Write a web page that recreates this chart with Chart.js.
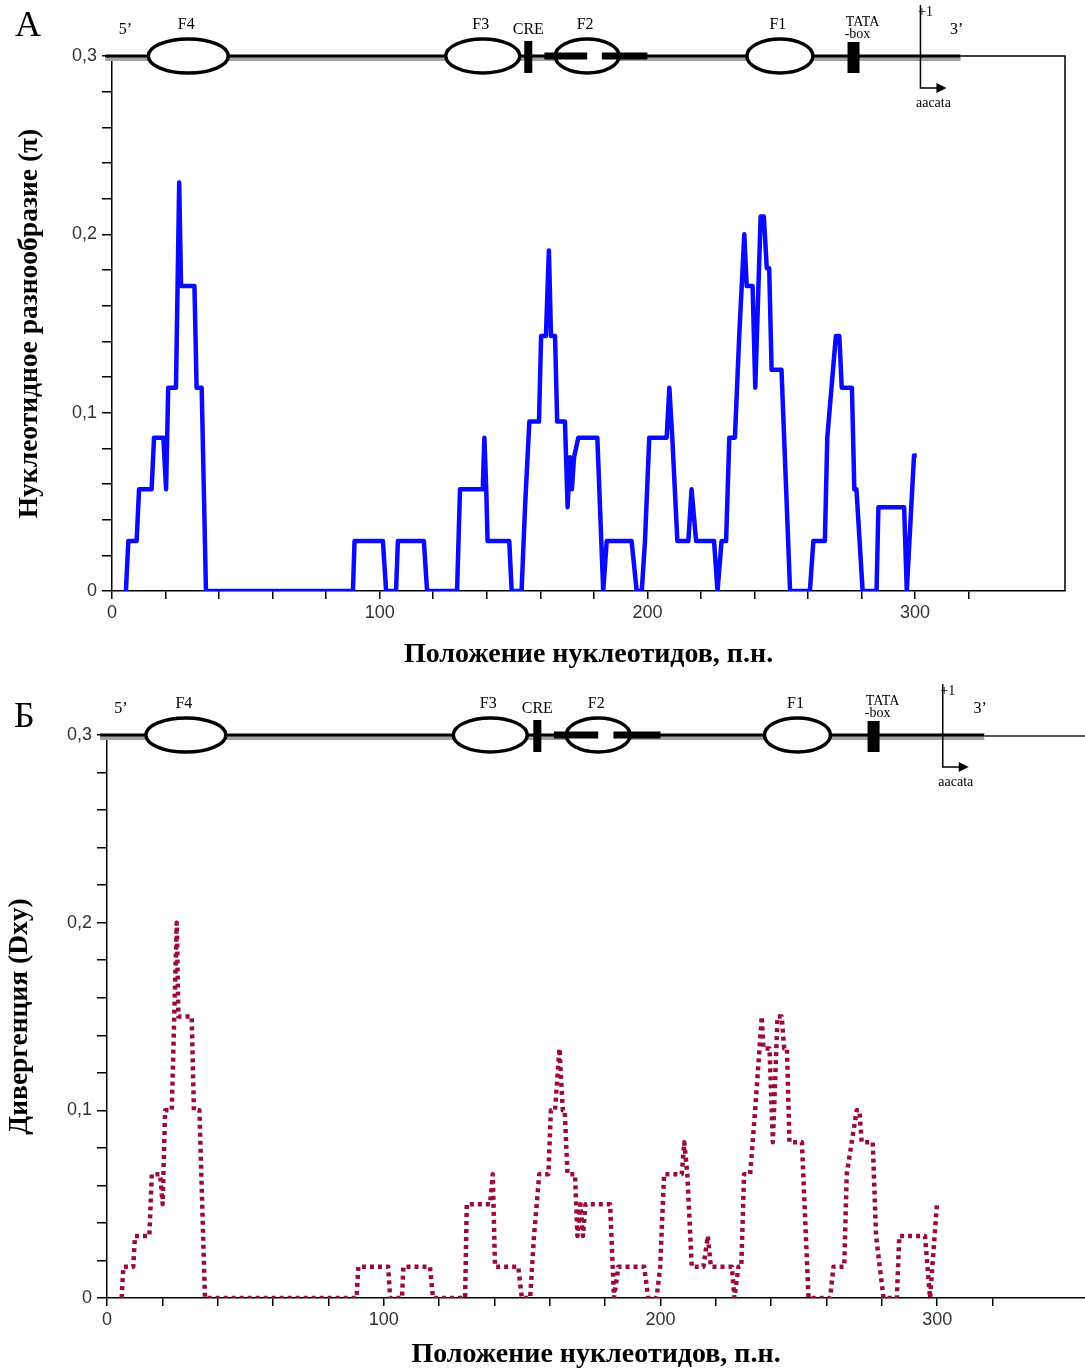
<!DOCTYPE html>
<html>
<head>
<meta charset="utf-8">
<script src="https://cdn.jsdelivr.net/npm/chart.js@4.4.1/dist/chart.umd.min.js"></script>
<style>
  body { margin: 0; background: #fff; width: 1085px; height: 1372px; overflow: hidden; position: relative; }
  .panel { position: absolute; left: 0; }
</style>
</head>
<body>
<div class="panel" style="top:0"><canvas id="chartA" width="1085" height="680"></canvas></div>
<div class="panel" style="top:680px"><canvas id="chartB" width="1085" height="692"></canvas></div>
<script>
// --- panel A: nucleotide diversity (pi), sliding window
const posA = [5.2, 6.1, 9.2, 10.1, 14.8, 15.7, 19.2, 20.2, 21.0, 23.9, 25.1, 25.8, 30.8, 31.6, 33.5, 35.1,
  90.0, 90.6, 101.2, 102.4, 106.1, 106.8, 116.5, 117.7, 128.9, 130.0, 138.5, 139.1, 139.8, 140.3, 148.4, 149.3,
  153.0, 154.3, 155.9, 159.5, 160.3, 162.1, 163.2, 164.0, 165.5, 166.3, 169.2, 170.2, 171.1, 171.8, 172.6, 174.2,
  181.3, 183.5, 184.8, 194.1, 196.0, 197.9, 199.1, 200.7, 207.2, 208.2, 209.3, 211.2, 215.3, 216.5, 218.2, 224.9,
  226.2, 227.7, 229.4, 230.6, 232.7, 234.3, 236.2, 237.1, 239.3, 240.3, 242.3, 243.5, 244.6, 245.5, 246.4, 250.1,
  253.3, 260.7, 262.0, 266.3, 267.2, 270.4, 271.7, 272.6, 276.4, 277.3, 278.1, 280.4, 285.6, 286.3, 295.9, 296.9,
  299.6, 300.6];
const piA = [0, 0.028, 0.028, 0.057, 0.057, 0.086, 0.086, 0.057, 0.114, 0.114, 0.229, 0.171, 0.171, 0.114, 0.114, 0,
  0, 0.028, 0.028, 0, 0, 0.028, 0.028, 0, 0, 0.057, 0.057, 0.086, 0.057, 0.028, 0.028, 0,
  0, 0.047, 0.095, 0.095, 0.143, 0.143, 0.191, 0.143, 0.143, 0.095, 0.095, 0.047, 0.075, 0.057, 0.075, 0.086,
  0.086, 0, 0.028, 0.028, 0, 0, 0.028, 0.086, 0.086, 0.114, 0.086, 0.028, 0.028, 0.057, 0.028, 0.028,
  0, 0.028, 0.028, 0.086, 0.086, 0.143, 0.2, 0.171, 0.171, 0.114, 0.21, 0.21, 0.181, 0.181, 0.124, 0.124,
  0, 0, 0.028, 0.028, 0.086, 0.143, 0.143, 0.114, 0.114, 0.057, 0.057, 0, 0, 0.047, 0.047, 0,
  0.076, 0.076];

// --- panel B: divergence (Dxy)
const posB = [5.3, 5.9, 9.5, 10.1, 15.3, 16.2, 19.2, 20.1, 21.0, 23.4, 25.2, 25.8, 30.6, 31.4, 33.4, 35.4,
  90.2, 90.8, 101.6, 102.3, 106.6, 107.1, 116.7, 117.8, 129.4, 130.0, 138.4, 139.4, 140.2, 148.6, 149.9,
  152.9, 154.3, 156.2, 159.5, 160.4, 161.9, 163.5, 164.7, 165.4, 166.4, 169.1, 170.0, 171.1, 172.0, 172.9,
  181.8, 183.2, 184.8, 194.1, 195.6, 198.6, 199.9, 201.3, 207.7, 208.6, 209.7, 211.3, 215.5, 217.1, 218.2,
  225.8, 226.7, 228.2, 229.2, 230.2, 232.4, 234.2, 236.6, 237.2, 239.4, 240.6, 242.3, 243.8, 244.7, 245.7,
  246.6, 251.1, 253.5, 261.3, 262.5, 266.4, 267.3, 270.9, 271.9, 272.7, 276.7, 277.9, 280.6, 285.4, 286.3,
  295.6, 297.4, 299.9];
const dxyB = [0, 0.0167, 0.0167, 0.033, 0.033, 0.066, 0.066, 0.05, 0.1, 0.1, 0.2, 0.15, 0.15, 0.1, 0.1, 0,
  0, 0.0167, 0.0167, 0, 0, 0.0167, 0.0167, 0, 0, 0.05, 0.05, 0.066, 0.0167, 0.0167, 0,
  0, 0.033, 0.066, 0.066, 0.1, 0.1, 0.133, 0.1, 0.1, 0.066, 0.066, 0.033, 0.05, 0.033, 0.05,
  0.05, 0, 0.0167, 0.0167, 0, 0, 0.0167, 0.066, 0.066, 0.083, 0.066, 0.0167, 0.0167, 0.033, 0.0167,
  0.0167, 0, 0.0167, 0.0167, 0.066, 0.066, 0.1, 0.15, 0.133, 0.133, 0.083, 0.15, 0.15, 0.133, 0.133,
  0.083, 0.083, 0, 0, 0.0167, 0.0167, 0.066, 0.1, 0.1, 0.083, 0.083, 0.033, 0, 0, 0.033,
  0.033, 0, 0.05];

// promoter map features (nucleotide positions)
const geneNames = ['F4', 'F3', 'F2', 'F1'];
const geneCentres = [28.5, 138.5, 177.5, 249.5];
const creSite = 155.5;
const tataSite = 277;
const startSite = 302;
const f2Blocks = [[161.5, 177.5], [183, 200]];
const mapSpan = [-2.5, 317];

const serif = '"Liberation Serif", "Times New Roman", serif';
const sans = '"Liberation Sans", Arial, sans-serif';
const isMult = (v, step) => Math.abs(v / step - Math.round(v / step)) < 1e-6;

const promoterMap = {
  id: 'promoterMap',
  afterDraw(chart, args, opts) {
    const { ctx, chartArea, scales: { x, y } } = chart;
    const X = v => x.getPixelForValue(v);
    const top = y.getPixelForValue(0.3);
    const geneRx = [40, 37, 32, 33];
    ctx.save();

    if (opts.frame) {
      ctx.strokeStyle = '#000';
      ctx.lineWidth = 1.5;
      ctx.beginPath();
      ctx.moveTo(X(mapSpan[1]), top);
      ctx.lineTo(chartArea.right, top);
      ctx.lineTo(chartArea.right, chartArea.bottom);
      ctx.stroke();
    } else {
      ctx.strokeStyle = '#555';
      ctx.lineWidth = 2;
      ctx.beginPath();
      ctx.moveTo(X(mapSpan[1]), top + 1);
      ctx.lineTo(chart.width, top + 1);
      ctx.stroke();
    }

    // DNA line with shadow
    ctx.strokeStyle = '#a3a3a3';
    ctx.lineWidth = 4;
    ctx.beginPath();
    ctx.moveTo(X(mapSpan[0]), top + 3);
    ctx.lineTo(X(mapSpan[1]), top + 3);
    ctx.stroke();
    ctx.strokeStyle = '#000';
    ctx.lineWidth = 3;
    ctx.beginPath();
    ctx.moveTo(X(mapSpan[0]), top);
    ctx.lineTo(X(mapSpan[1]), top);
    ctx.stroke();

    // binding sites
    ctx.lineWidth = 3.5;
    geneCentres.forEach((c, i) => {
      ctx.beginPath();
      ctx.ellipse(X(c), top, geneRx[i], 17, 0, 0, Math.PI * 2);
      ctx.fillStyle = '#fff';
      ctx.fill();
      ctx.stroke();
    });
    ctx.fillStyle = '#000';
    f2Blocks.forEach(([a, b]) => ctx.fillRect(X(a), top - 3.5, X(b) - X(a), 7));
    ctx.fillRect(X(creSite) - 4, top - 15, 8, 32);
    ctx.fillRect(X(tataSite) - 6, top - 14, 12, 31);

    // transcription start
    const s = X(startSite);
    ctx.lineWidth = 1.5;
    ctx.beginPath();
    ctx.moveTo(s, top - 51);
    ctx.lineTo(s, top + 32);
    ctx.lineTo(s + 18, top + 32);
    ctx.stroke();
    ctx.beginPath();
    ctx.moveTo(s + 26, top + 32);
    ctx.lineTo(s + 16, top + 27);
    ctx.lineTo(s + 16, top + 37);
    ctx.closePath();
    ctx.fill();

    // labels
    ctx.textAlign = 'center';
    ctx.textBaseline = 'middle';
    ctx.font = '16px ' + serif;
    geneNames.forEach((n, i) => ctx.fillText(n, X(geneCentres[i]) - 2, top - 31));
    ctx.fillText('CRE', X(creSite), top - 26);
    ctx.fillText('5’', X(5), top - 26);
    ctx.fillText('3’', X(315.5), top - 26);
    ctx.font = '14px ' + serif;
    ctx.fillText('TATA', X(tataSite) + 9, top - 34);
    ctx.fillText('-box', X(tataSite) + 4, top - 22);
    ctx.fillText('+1', s + 5, top - 44);
    ctx.fillText('aacata', s + 13, top + 47);

    // panel letter
    ctx.font = '36px ' + serif;
    ctx.textAlign = 'left';
    ctx.fillText(opts.letter, opts.letterX, opts.letterY);
    ctx.restore();
  }
};

function buildChart(id, xs, ys, line, cfg) {
  const points = xs.map((v, i) => ({ x: v, y: ys[i] }));
  const tickFont = { family: sans, size: 18 };
  return new Chart(document.getElementById(id), {
    type: 'line',
    data: {
      datasets: [Object.assign({
        data: points,
        pointRadius: 0,
        tension: 0,
        fill: false,
        borderJoinStyle: 'round'
      }, line)]
    },
    options: {
      responsive: false,
      animation: false,
      devicePixelRatio: 1,
      layout: { padding: { top: cfg.top, right: cfg.right, left: 0, bottom: 0 } },
      plugins: {
        legend: { display: false },
        tooltip: { enabled: false },
        promoterMap: cfg.map
      },
      scales: {
        x: {
          type: 'linear',
          min: 0,
          max: cfg.xMax,
          afterFit: s => { s.height = cfg.xAxisH; },
          afterBuildTicks: s => { s.ticks = s.ticks.filter(t => isMult(t.value, 20)); },
          ticks: {
            stepSize: 20,
            autoSkip: false,
            maxRotation: 0,
            padding: 3,
            color: '#333',
            font: tickFont,
            callback: v => isMult(v, 100) ? String(Math.round(v)) : ''
          },
          grid: { drawOnChartArea: false, drawTicks: true, tickLength: 8, color: '#000', lineWidth: 1.5 },
          border: { color: '#000', width: 1.5 },
          title: { display: true, text: 'Положение нуклеотидов, п.н.', color: '#000',
                   font: { family: serif, size: 28, weight: 'bold' },
                   padding: { top: 0, bottom: cfg.xTitlePad } }
        },
        y: {
          min: 0,
          max: 0.3,
          afterFit: s => { s.width = cfg.yAxisW; },
          ticks: {
            stepSize: 0.02,
            autoSkip: false,
            padding: 5,
            color: '#333',
            font: tickFont,
            callback: v => isMult(v, 0.1) ? (Math.abs(v) < 1e-9 ? '0' : v.toFixed(1).replace('.', ',')) : ''
          },
          grid: { drawOnChartArea: false, drawTicks: true, tickLength: 10, color: '#000', lineWidth: 1.5 },
          border: { color: '#000', width: 1.5 },
          title: { display: true, text: cfg.yTitle, color: '#000',
                   font: { family: serif, size: 27.5, weight: 'bold' },
                   padding: { top: cfg.yTitlePad, bottom: 0 } }
        }
      }
    },
    plugins: [promoterMap]
  });
}

buildChart('chartA', posA, piA,
  { borderColor: '#0a0aff', borderWidth: 4.5 },
  { top: 56, right: 20, xMax: 356, xAxisH: 89, yAxisW: 112, xTitlePad: 8, yTitlePad: 13,
    yTitle: 'Нуклеотидное разнообразие (π)',
    map: { frame: true, letter: 'А', letterX: 15, letterY: 27 } });

buildChart('chartB', posB, dxyB,
  { borderColor: '#9b0a3f', borderWidth: 4.5, borderDash: [4, 4], borderCapStyle: 'butt' },
  { top: 55, right: 0, xMax: 353.4, xAxisH: 74, yAxisW: 107, xTitlePad: 0, yTitlePad: 3,
    yTitle: 'Дивергенция (Dxy)',
    map: { frame: false, letter: 'Б', letterX: 14, letterY: 38 } });
</script>
</body>
</html>
